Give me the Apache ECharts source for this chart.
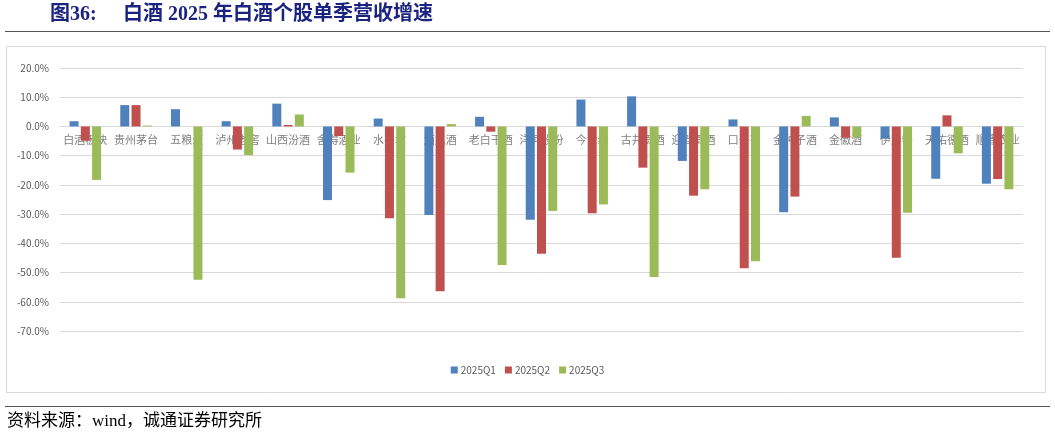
<!DOCTYPE html>
<html>
<head>
<meta charset="utf-8">
<script src="https://cdn.jsdelivr.net/npm/echarts@6/dist/echarts.min.js"></script>
<style>
html,body{margin:0;padding:0;background:#fff;}
#main{width:1055px;height:437px;}
</style>
</head>
<body>
<div id="main"></div>
<script>
// 白酒个股单季营收增速 (%)
var categories = ['白酒板块','贵州茅台','五粮液','泸州老窖','山西汾酒','舍得酒业','水井坊','酒鬼酒','老白干酒','洋河股份',
                  '今世缘','古井贡酒','迎驾贡酒','口子窖','金种子酒','金徽酒','伊力特','天佑德酒','顺鑫农业'];
var q1 = [1.8, 7.3, 5.9, 1.8, 7.8, -25.2, 2.7, -30.3, 3.3, -31.9, 9.2, 10.3, -11.8, 2.4, -29.4, 3.1, -4.1, -17.9, -19.6];
var q2 = [-4.9, 7.3, 0.0, -7.9, 0.5, -3.3, -31.4, -56.4, -1.8, -43.6, -29.7, -14.1, -23.7, -48.5, -24.0, -3.9, -44.9, 3.8, -18.0];
var q3 = [-18.3, 0.3, -52.5, -9.8, 4.1, -15.8, -58.8, 0.8, -47.4, -28.9, -26.7, -51.5, -21.5, -46.1, 3.6, -3.8, -29.5, -9.2, -21.5];
var seriesNames = ['2025Q1','2025Q2','2025Q3'];
var colors = ['#4F81BD','#C0504D','#9BBB59'];

var myChart = echarts.init(document.getElementById('main'));

var cjk = '"Liberation Serif","Noto Sans CJK SC",serif';
var lab = '"Noto Sans CJK SC","Liberation Sans",sans-serif';

// 网格: 顶部68, 高263, 范围 -70 ~ 20 -> 0轴位置
var gridTop = 68, gridH = 263;
var zeroOffset = gridH * 70 / 90;

var option = {
    animation: false,
    color: colors,
    graphic: [
        {type:'text', left:50, top:5, style:{text:'图36:', font:'bold 20px ' + cjk, fill:'#1b2380'}},
        {type:'text', left:123, top:5, style:{text:'白酒 2025 年白酒个股单季营收增速', font:'bold 20px ' + cjk, fill:'#1b2380'}},
        {type:'rect', shape:{x:5, y:31, width:1045, height:1}, style:{fill:'#555'}},
        {type:'rect', shape:{x:6.5, y:46.5, width:1039, height:346}, style:{fill:'none', stroke:'#d9d9d9', lineWidth:1}},
        {type:'rect', shape:{x:5, y:406, width:1045, height:1}, style:{fill:'#555'}},
        {type:'text', left:7, top:413, style:{text:'资料来源：wind，诚通证券研究所', font:'17px ' + cjk, fill:'#000'}}
    ],
    legend: {
        data: seriesNames,
        left: 'center',
        top: 360,
        itemWidth: 7,
        itemHeight: 7,
        itemGap: 9,
        icon: 'rect',
        textStyle: {fontSize: 10, color: '#595959', fontFamily: lab, padding: [0, 0, 0, -2]}
    },
    grid: {left: 60, right: 32, top: gridTop, height: gridH},
    xAxis: {
        type: 'category',
        data: categories,
        offset: -zeroOffset,
        axisLine: {onZero: false, lineStyle: {color: '#d9d9d9'}},
        axisTick: {show: false},
        axisLabel: {fontSize: 11, color: '#808080', fontFamily: lab, margin: 8, interval: 0}
    },
    yAxis: {
        type: 'value',
        min: -70,
        max: 20,
        interval: 10,
        axisLine: {show: false},
        axisTick: {show: false},
        splitLine: {lineStyle: {color: '#d9d9d9', width: 1}},
        axisLabel: {fontSize: 10, color: '#595959', fontFamily: lab, margin: 11,
            formatter: function (v) { return v.toFixed(1) + '%'; }}
    },
    series: [
        {name: seriesNames[0], type: 'bar', data: q1, barWidth: 9, barGap: '25%', z: 5},
        {name: seriesNames[1], type: 'bar', data: q2, barWidth: 9, barGap: '25%', z: 5},
        {name: seriesNames[2], type: 'bar', data: q3, barWidth: 9, barGap: '25%', z: 5}
    ]
};
myChart.setOption(option);
</script>
</body>
</html>
